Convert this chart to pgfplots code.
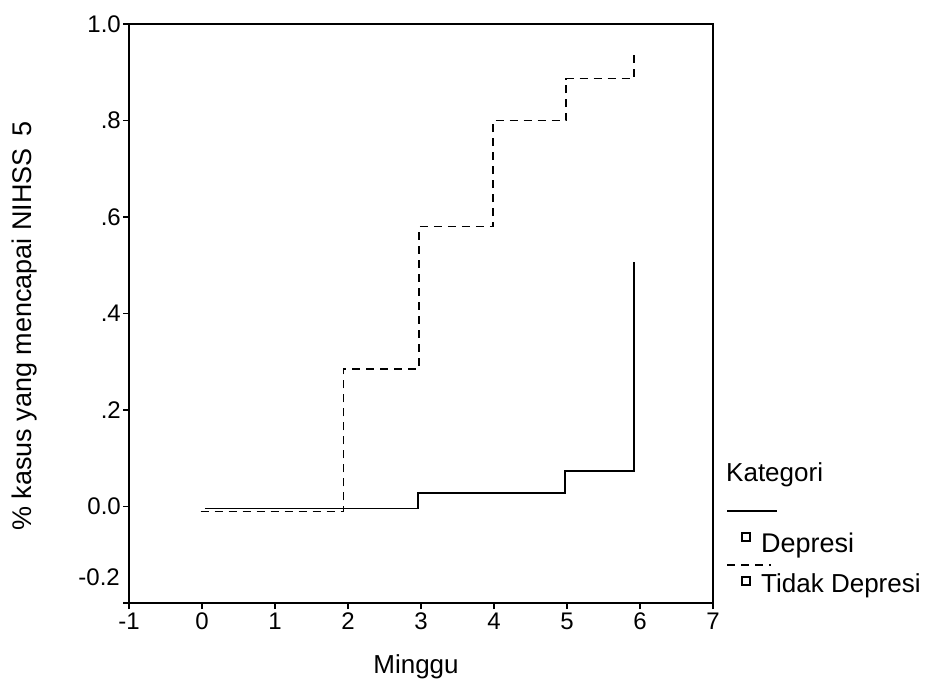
\documentclass[border=0pt]{standalone}
\usepackage{pgfplots}
\pgfplotsset{compat=1.18}
\usepackage{fontspec}
\setmainfont{Liberation Sans}
\begin{document}
\begin{tikzpicture}[x=1pt,y=1pt]
\useasboundingbox (0,0) rectangle (933,680);
\begin{axis}[
  at={(129pt,77pt)}, anchor=south west,
  scale only axis, width=584pt, height=579pt,
  xmin=-1, xmax=7, ymin=-0.2, ymax=1.0,
  xtick={-1,0,1,2,3,4,5,6,7},
  xticklabels={-1,0,1,2,3,4,5,6,7},
  ytick={-0.2,0,0.2,0.4,0.6,0.8,1.0},
  yticklabels={,0.0,.2,.4,.6,.8,1.0},
  tick align=outside, major tick length=6pt,
  xtick pos=bottom, ytick pos=left,
  axis line style={line width=2pt},
  every tick/.style={black, line width=1.8pt},
  tick label style={font=\fontsize{24}{28}\selectfont},
  xticklabel style={inner sep=0pt, yshift=-4pt},
  yticklabel style={inner sep=0pt, xshift=-2pt},
  /pgf/number format/assume math mode=true,
  clip=false,
]
\addplot[black, line width=1.6pt] coordinates {
  (0.04,-0.004) (2.96,-0.004) (2.96,0.028) (4.97,0.028) (4.97,0.073) (5.92,0.073) (5.92,0.506)
};
\addplot[black, line width=1.6pt, dash pattern=on 8pt off 6pt] coordinates {
  (-0.02,-0.01) (1.94,-0.01) (1.94,0.285) (2.97,0.285) (2.97,0.58) (3.99,0.58) (3.99,0.80) (4.99,0.80) (4.99,0.887) (5.92,0.887) (5.92,0.94)
};
\end{axis}
\node[anchor=base east, inner sep=0pt, font=\fontsize{24}{28}\selectfont] at (120,95) {-0.2};
\node[rotate=90, inner sep=0pt, font=\fontsize{27}{32}\selectfont] at (25,354) {\% kasus yang mencapai NIHSS\hspace{0.45em}5};
\node[anchor=base, inner sep=0pt, font=\fontsize{26}{30}\selectfont] at (416,7) {Minggu};
\node[anchor=base west, inner sep=0pt, font=\fontsize{26}{30}\selectfont] at (726,198) {Kategori};
\draw[line width=1.6pt] (727,169) -- (777,169);
\draw[line width=1.3pt] (742,139) rectangle (750,147);
\node[anchor=base west, inner sep=0pt, font=\fontsize{27}{32}\selectfont] at (761,128) {Depresi};
\draw[line width=1.6pt, dash pattern=on 8pt off 6pt] (727,115) -- (771,115);
\draw[line width=1.3pt] (742,95) rectangle (750,103);
\node[anchor=base west, inner sep=0pt, font=\fontsize{26}{30}\selectfont] at (761,88) {Tidak Depresi};
\end{tikzpicture}
\end{document}
